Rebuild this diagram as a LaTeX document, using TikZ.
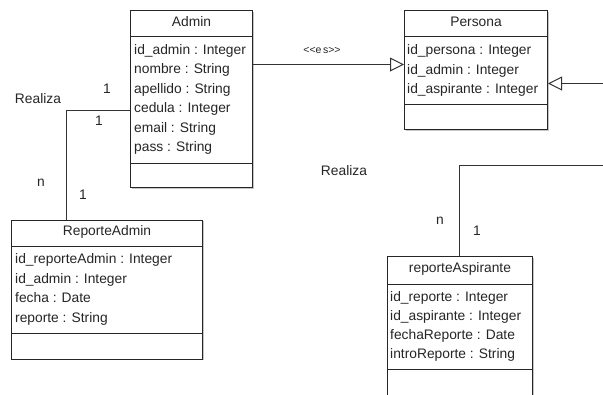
\documentclass[tikz,border=0pt]{standalone}
\usepackage{fontspec}
\setmainfont{Liberation Sans}
\usetikzlibrary{arrows.meta,calc,shadows}
\begin{document}
\begin{tikzpicture}[x=1pt,y=-1pt,
  every node/.style={text=black!85},
  classbox/.style={draw=black!85, line width=1pt, fill=white, anchor=north west,
    inner sep=0pt, drop shadow={shadow xshift=1.2pt, shadow yshift=-1.2pt, fill=black!45}},
  rule/.style={draw=black!85, line width=1pt},
  title/.style={anchor=base, inner sep=0pt, font=\fontsize{13.8}{16}\selectfont},
  attr/.style={anchor=base west, inner sep=0pt, font=\fontsize{13.8}{16}\selectfont},
  lbl/.style={inner sep=0pt, font=\fontsize{13.8}{16}\selectfont},
  small/.style={inner sep=0pt, font=\fontsize{10.5}{12}\selectfont\addfontfeature{LetterSpace=15}},
  link/.style={draw=black!80, line width=1pt},
  gen/.style={link, -{Triangle[open, length=14pt, width=14pt, fill=white]}}]
\clip (0,0) rectangle (603,394);
\fill[white] (0,0) rectangle (603,394);

% Admin
\node[classbox, minimum width=122pt, minimum height=177pt] (admin) at (130,10) {};
\draw[rule] ($(admin.north west)+(0,26)$) -- ($(admin.north east)+(0,26)$);
\draw[rule] ($(admin.north west)+(0,153)$) -- ($(admin.north east)+(0,153)$);
\node[title] (admin-t) at ($(admin.north)+(0,16)$) {Admin};
\foreach \t [count=\i] in {id\_admin : Integer, nombre : String, apellido : String,
  cedula : Integer, email : String, pass : String}
  \node[attr] (admin-\i) at ($(admin.north west)+(4,44+19.5*\i-19.5)$) {\t};

% Persona
\node[classbox, minimum width=143pt, minimum height=119pt] (persona) at (404,10) {};
\draw[rule] ($(persona.north west)+(0,26.5)$) -- ($(persona.north east)+(0,26.5)$);
\draw[rule] ($(persona.north west)+(0,94)$) -- ($(persona.north east)+(0,94)$);
\node[title] (persona-t) at ($(persona.north)+(0,16)$) {Persona};
\foreach \t [count=\i] in {id\_persona : Integer, id\_admin : Integer, id\_aspirante : Integer}
  \node[attr] (persona-\i) at ($(persona.north west)+(3,44.5+19.5*\i-19.5)$) {\t};

% ReporteAdmin
\node[classbox, minimum width=191pt, minimum height=139pt] (repadmin) at (11,219.5) {};
\draw[rule] ($(repadmin.north west)+(0,27)$) -- ($(repadmin.north east)+(0,27)$);
\draw[rule] ($(repadmin.north west)+(0,114)$) -- ($(repadmin.north east)+(0,114)$);
\node[title] (repadmin-t) at ($(repadmin.north)+(0,15.5)$) {ReporteAdmin};
\foreach \t [count=\i] in {id\_reporteAdmin : Integer, id\_admin : Integer, fecha : Date,
  reporte : String}
  \node[attr] (repadmin-\i) at ($(repadmin.north west)+(4,44+19.5*\i-19.5)$) {\t};

% reporteAspirante (continues below the page edge)
\node[classbox, minimum width=145pt, minimum height=170pt] (repasp) at (387,256) {};
\draw[rule] ($(repasp.north west)+(0,28)$) -- ($(repasp.north east)+(0,28)$);
\draw[rule] ($(repasp.north west)+(0,113)$) -- ($(repasp.north east)+(0,113)$);
\node[title] (repasp-t) at ($(repasp.north)+(0,16)$) {reporteAspirante};
\foreach \t [count=\i] in {id\_reporte : Integer, id\_aspirante : Integer,
  fechaReporte : Date, introReporte : String}
  \node[attr] (repasp-\i) at ($(repasp.north west)+(3,45+19*\i-19)$) {\t};

% generalisations
\draw[gen] ($(admin.north east)+(0,54.5)$) -- ($(persona.north west)+(0,54.5)$);
\node[small] (es) at (322,50) {\textless\kern0pt\textless\kern0pt es\kern0pt\textgreater\kern0pt\textgreater};
\coordinate (fromright) at (603,83.5);
\draw[gen] (fromright) -- (fromright -| persona.east);

% associations
\draw[link] ($(admin.north west)+(0,100)$) -| ($(repadmin.north west)+(55,0)$);
\node[lbl] (realiza1) at (38,98.5) {Realiza};
\node[lbl] (m1) at (107,89) {1};
\node[lbl] (m2) at (99,121) {1};
\node[lbl] (m3) at (41,183) {n};
\node[lbl] (m4) at (83,195) {1};

\coordinate (fromright2) at (603,165);
\draw[link] (fromright2) -| ($(repasp.north west)+(72.5,0)$);
\node[lbl] (realiza2) at (344,171) {Realiza};
\node[lbl] (m5) at (440,221) {n};
\node[lbl] (m6) at (477,231) {1};
\end{tikzpicture}
\end{document}
